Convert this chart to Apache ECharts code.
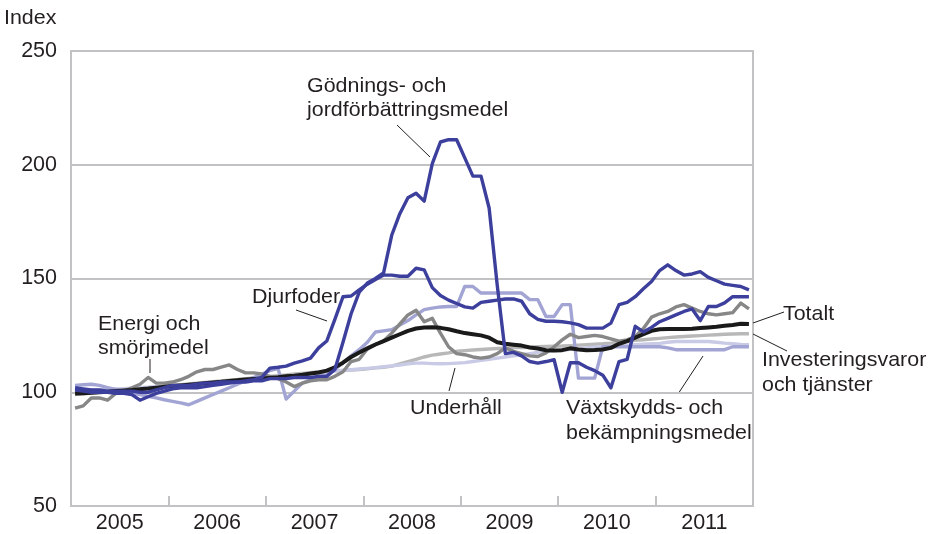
<!DOCTYPE html>
<html>
<head>
<meta charset="utf-8">
<script src="https://cdn.jsdelivr.net/npm/echarts@6/dist/echarts.min.js"></script>
<style>
  html, body { margin: 0; padding: 0; background: #fff; }
  #chart { width: 933px; height: 534px; }
</style>
</head>
<body>
<div id="chart"></div>
<script>
(function () {
  'use strict';

  // year labels, one band per year, 12 monthly points per band
  var years = ['2005', '2006', '2007', '2008', '2009', '2010', '2011'];
  var yTicks = [50, 100, 150, 200, 250];

  // monthly index values, Jan 2005 - Dec 2011
  var godning = [
    101, 100.5, 100, 100, 100, 99.5, 99.5, 99, 96.5, 98, 99.5, 100.5,
    101.5, 102, 102, 102, 102.5, 103, 103.5, 104, 104.5, 104.5, 105, 105,
    106, 106, 106, 106.5, 106.5, 106.5, 107, 107, 110, 122, 134.5, 144,
    148, 150, 152.5, 169, 178.5, 185.5, 187.5, 184, 200.5, 210, 211, 211,
    203, 195, 195, 181, 147, 117, 117.5, 116, 113.5, 112.8, 113.5, 114.3,
    100, 113, 113, 111, 109.5, 107.5, 102, 113.5, 114.5, 129, 126.5, 128.5,
    131, 132.5, 134, 135.5, 136.6, 131.5, 137.7, 137.7, 139.3, 142, 142, 142
  ];
  var djurfoder = [
    102, 101.5, 101, 101, 100.5, 100.5, 100.5, 100.5, 100, 100, 101, 102,
    103, 103, 103, 103.5, 104, 104, 104.5, 104.5, 104.5, 105, 105.5, 106.5,
    110.6, 111, 111.5, 112.8, 113.8, 115, 119.5, 122.5, 132, 142, 142.3, 145,
    147.5, 149.5, 151.5, 151.5, 151, 151, 154.5, 153.8, 146, 142.5, 140.5, 139,
    137.5, 137, 139.5, 140, 140.5, 141, 141, 140, 134.5, 132, 131.2, 131.2,
    131, 130.5, 129.7, 128.2, 128.2, 128.2, 130.4, 138.5, 139.5, 142, 145.5, 148.7,
    153.5, 156, 153.5, 151.5, 152, 153, 150.5, 149, 147.5, 147, 146.5, 145
  ];
  var energi = [
    93, 94, 97.5, 97.5, 96.5, 99.5, 100.5, 102, 103.5, 106.5, 104, 104,
    104.5, 105.5, 107, 109, 110, 110, 111, 112, 110, 108.5, 108.5, 108,
    107, 106, 104.5, 102.5, 104, 105, 105.5, 105.5, 107, 109, 113.5, 114.5,
    119, 121, 122.5, 126, 130, 134, 136, 131, 132.5, 126, 120, 117,
    116.5, 115.5, 115, 115.5, 117, 119.5, 118, 117, 116, 115.7, 117.3, 120,
    123, 125.5, 124, 124.5, 125, 124.5, 123.5, 122.5, 123, 124.5, 128, 133,
    134.5, 135.5, 137.5, 138.5, 137, 135.5, 134.5, 134, 134.5, 135, 139.2, 136.6
  ];
  var totalt = [
    99.5, 99.6, 99.8, 100, 100.2, 100.5, 100.8, 101, 101.3, 101.6, 102, 102.4,
    102.7, 103, 103.3, 103.6, 104, 104.3, 104.6, 105, 105.3, 105.6, 105.8, 106,
    106.3, 106.6, 107, 107.3, 107.7, 108.2, 108.7, 109.5, 111, 113, 115.5, 117.5,
    119.3, 121, 122.5, 124, 125.5, 127, 128, 128.5, 128.6, 128.3, 127.7, 126.8,
    126, 125.5, 125, 124, 122, 121.3, 120.9, 120.5, 119.7, 119.2, 118.5, 118.4,
    118.5, 119.3, 118.8, 118.5, 118.6, 118.8, 119.5, 121.3, 122.5, 124, 125.5, 127,
    127.7, 127.8, 127.8, 127.8, 127.9, 128.2, 128.5, 128.8, 129.2, 129.6, 130.1, 130
  ];
  var investering = [
    99, 99.3, 99.6, 100, 100.3, 100.6, 101, 101.3, 101.6, 102, 102.3, 102.6,
    103, 103.3, 103.6, 104, 104.3, 104.6, 105, 105.3, 105.6, 106, 106.3, 106.6,
    107, 107.3, 107.6, 108, 108.3, 108.6, 109, 109.2, 109.4, 109.6, 109.8, 110,
    110.3, 110.7, 111, 111.5, 112.5, 113.5, 114.5, 115.5, 116.3, 116.8, 117.3, 118,
    118.3, 118.6, 118.8, 119, 119.2, 119.4, 119.6, 119.7, 119.8, 120, 120.1, 120.2,
    120.3, 120.5, 120.7, 120.9, 121.1, 121.3, 121.6, 122, 122.4, 122.8, 123.1, 123.4,
    123.7, 124, 124.3, 124.5, 124.7, 124.9, 125.1, 125.3, 125.5, 125.6, 125.7, 125.7
  ];
  var underhall = [
    101, 101, 101, 101, 101.2, 101.4, 101.6, 101.8, 102, 102.2, 102.4, 102.6,
    102.8, 103, 103.3, 103.6, 104, 104.3, 104.6, 104.9, 105.2, 105.5, 105.8, 106,
    106.3, 106.6, 107, 107.4, 107.8, 108.2, 108.6, 109, 109.3, 109.6, 109.9, 110.2,
    110.5, 110.8, 111.2, 111.6, 112, 112.5, 112.8, 112.8, 112.6, 112.5, 112.6, 112.8,
    113, 113.5, 114, 114.5, 115, 115.5, 116, 116.5, 117, 117.5, 118, 118.3,
    118.6, 118.9, 119.2, 119.5, 119.8, 120, 120.2, 120.5, 120.7, 120.9, 121.1, 121.3,
    121.5, 122, 122.3, 122.3, 122.3, 122.3, 122.3, 122, 121.6, 121.3, 121, 120.9
  ];
  var vaxtskydd = [
    103, 103.3, 103.5, 103, 102, 101.2, 100.5, 99.7, 99, 98.2, 97.5, 96.7,
    96, 95.3, 94.5, 96, 97.5, 99, 100.5, 102, 103.5, 105, 106.5, 108,
    109.5, 110.5, 97, 100.5, 104, 105.5, 107, 107.5, 110, 113, 116, 118.7,
    122, 126.5, 127, 127.5, 129.5, 131.5, 134, 136.3, 137, 137.5, 137.7, 137.7,
    146.5, 146.5, 143.6, 143.6, 143.6, 143.6, 143.6, 143.6, 140.7, 140.7, 133.3, 133.3,
    138.5, 138.5, 106.2, 106.2, 106.2, 120, 120, 120, 120, 120, 120, 120,
    120, 119.5, 118.7, 118.7, 118.7, 118.7, 118.7, 118.7, 118.7, 120, 120, 120
  ];

  var blue = '#3d3f9c';
  var textColor = '#231f20';
  var frameColor = '#c2c2c4';
  var fontFamily = '"Liberation Sans", Arial, sans-serif';
  var font = '21px ' + fontFamily;

  function toPoints(values) {
    var out = [];
    for (var i = 0; i < values.length; i += 1) {
      out.push([i + 0.5, values[i]]);
    }
    return out;
  }

  function lineSeries(name, values, color, width) {
    return {
      name: name,
      type: 'line',
      xAxisIndex: 1,
      data: toPoints(values),
      showSymbol: false,
      symbol: 'none',
      silent: true,
      lineStyle: { color: color, width: width, join: 'round' }
    };
  }

  function label(text, x, y) {
    return {
      type: 'text',
      x: x,
      y: y,
      scaleX: 1.02,
      silent: true,
      style: {
        text: text,
        font: font,
        fill: textColor,
        textAlign: 'left',
        textVerticalAlign: 'middle'
      }
    };
  }

  function leader(x1, y1, x2, y2) {
    return {
      type: 'line',
      silent: true,
      shape: { x1: x1, y1: y1, x2: x2, y2: y2 },
      style: { stroke: '#231f20', lineWidth: 1 }
    };
  }

  var chart = echarts.init(document.getElementById('chart'), null, { renderer: 'canvas' });

  chart.setOption({
    animation: false,
    backgroundColor: '#fff',
    grid: {
      left: 71, right: 180, top: 51, bottom: 28,
      show: true, borderColor: frameColor, borderWidth: 2, backgroundColor: 'transparent'
    },
    xAxis: [
      {
        type: 'category',
        data: years,
        boundaryGap: true,
        axisLine: { show: true, lineStyle: { color: frameColor, width: 2 } },
        axisTick: { show: true, inside: true, length: 10, lineStyle: { color: frameColor, width: 2 } },
        axisLabel: { color: textColor, fontSize: 21.5, fontFamily: fontFamily, margin: 6 },
        splitLine: { show: false }
      },
      {
        type: 'value',
        min: 0,
        max: years.length * 12,
        show: false
      }
    ],
    yAxis: {
      type: 'value',
      min: yTicks[0],
      max: yTicks[yTicks.length - 1],
      interval: 50,
      axisLine: { show: true, lineStyle: { color: frameColor, width: 2 } },
      axisTick: { show: false },
      axisLabel: { color: textColor, fontSize: 21.5, fontFamily: fontFamily, margin: 14 },
      splitLine: { show: true, lineStyle: { color: frameColor, width: 2 } }
    },
    series: [
      lineSeries('Investeringsvaror och tjänster', investering, '#b8b8b8', 3.4),
      lineSeries('Underhåll', underhall, '#c9cae6', 3.4),
      lineSeries('Växtskydds- och bekämpningsmedel', vaxtskydd, '#a2a4d4', 3.4),
      lineSeries('Energi och smörjmedel', energi, '#878787', 3.4),
      lineSeries('Totalt', totalt, '#1a1a1a', 4),
      lineSeries('Djurfoder', djurfoder, blue, 3.4),
      lineSeries('Gödnings- och jordförbättringsmedel', godning, blue, 3.4)
    ],
    graphic: [
      label('Index', 4, 18),
      label('Gödnings- och', 307, 86),
      label('jordförbättringsmedel', 307, 110),
      leader(397, 125, 430, 157),
      label('Djurfoder', 252, 297),
      leader(296, 310, 327, 321),
      label('Energi och', 98, 324),
      label('smörjmedel', 98, 348),
      leader(150, 359, 150, 373),
      label('Underhåll', 410, 408),
      leader(449, 391, 455, 368),
      label('Växtskydds- och', 566, 408),
      label('bekämpningsmedel', 566, 433),
      leader(678, 394, 703, 356),
      label('Totalt', 783, 314),
      leader(753, 323, 784, 312),
      label('Investeringsvaror', 762, 360),
      label('och tjänster', 762, 385),
      leader(753, 334, 787, 351)
    ]
  });
})();
</script>
</body>
</html>
